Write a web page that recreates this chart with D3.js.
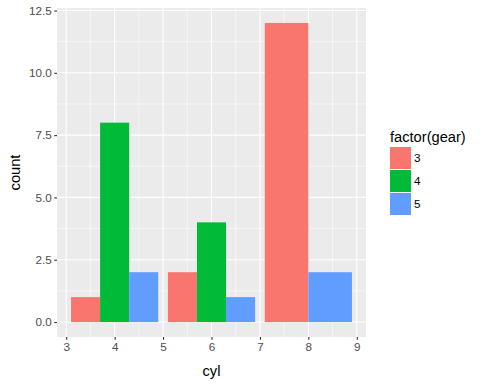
<!DOCTYPE html>
<html><head><meta charset="utf-8">
<script src="https://cdn.jsdelivr.net/npm/d3@7"></script>
<style>body{margin:0;background:#fff}svg{display:block}text{font-family:"Liberation Sans",Arial,sans-serif}</style>
</head><body>
<script>
const cylValues = [4, 6, 8];
const gearLevels = ["3", "4", "5"];
const counts = [
  {cyl: 4, gear: "3", n: 1}, {cyl: 4, gear: "4", n: 8}, {cyl: 4, gear: "5", n: 2},
  {cyl: 6, gear: "3", n: 2}, {cyl: 6, gear: "4", n: 4}, {cyl: 6, gear: "5", n: 1},
  {cyl: 8, gear: "3", n: 12}, {cyl: 8, gear: "5", n: 2}
];
const xTicks = [3, 4, 5, 6, 7, 8, 9];
const yTicks = [0, 2.5, 5, 7.5, 10, 12.5];
const colors = ["#F8766D", "#00BA38", "#619CFF"];

const W = 480, H = 384;
const P = {l: 57, r: 366, t: 8, b: 337};
const svg = d3.select("body").append("svg").attr("width", W).attr("height", H);

const barW = 1.8;
const x = d3.scaleLinear().domain([2.81, 9.19]).range([P.l, P.r]);
const y = d3.scaleLinear().domain([-0.6, 12.6]).range([P.b, P.t]);
const color = d3.scaleOrdinal().domain(gearLevels).range(colors);

svg.append("rect").attr("x", P.l).attr("y", P.t).attr("width", P.r - P.l).attr("height", P.b - P.t).attr("fill", "#EBEBEB");

const g = svg.append("g");
// minor grid
const xMinor = d3.range(3.5, 9, 1);
const yMinor = [1.25, 3.75, 6.25, 8.75, 11.25];
g.selectAll(".xm").data(xMinor).join("line").attr("x1", d => x(d)).attr("x2", d => x(d)).attr("y1", P.t).attr("y2", P.b).attr("stroke", "#fff").attr("stroke-width", 0.55);
g.selectAll(".ym").data(yMinor).join("line").attr("y1", d => y(d)).attr("y2", d => y(d)).attr("x1", P.l).attr("x2", P.r).attr("stroke", "#fff").attr("stroke-width", 0.55);
g.selectAll(".xM").data(xTicks).join("line").attr("x1", d => x(d)).attr("x2", d => x(d)).attr("y1", P.t).attr("y2", P.b).attr("stroke", "#fff").attr("stroke-width", 1.1);
g.selectAll(".yM").data(yTicks).join("line").attr("y1", d => y(d)).attr("y2", d => y(d)).attr("x1", P.l).attr("x2", P.r).attr("stroke", "#fff").attr("stroke-width", 1.1);

// bars with dodge
cylValues.forEach(c => {
  const grp = counts.filter(d => d.cyl === c);
  const k = grp.length, w = barW / k;
  grp.forEach((d, i) => {
    const x0 = c - barW / 2 + i * w;
    svg.append("rect").attr("x", x(x0)).attr("width", x(x0 + w) - x(x0))
      .attr("y", y(d.n)).attr("height", y(0) - y(d.n)).attr("fill", color(d.gear));
  });
});

// axes
const xAxis = svg.append("g").attr("transform", `translate(0,${P.b})`)
  .call(d3.axisBottom(x).tickValues(xTicks).tickFormat(d3.format("d")).tickSize(2.75).tickPadding(2.5));
const yAxis = svg.append("g").attr("transform", `translate(${P.l},0)`)
  .call(d3.axisLeft(y).tickValues(yTicks).tickFormat(d3.format(".1f")).tickSize(2.75).tickPadding(2.5));
[xAxis, yAxis].forEach(a => {
  a.select(".domain").remove();
  a.selectAll("line").attr("stroke", "#333").attr("stroke-width", 1.1);
  a.selectAll("text").attr("fill", "#4D4D4D").style("font-size", "11.7px").style("font-family", "Liberation Sans, Arial, sans-serif");
});

svg.append("text").attr("x", (P.l + P.r) / 2).attr("y", 376).attr("text-anchor", "middle").style("font-size", "14.67px").text("cyl");
svg.append("text").attr("transform", `translate(20,${(P.t + P.b) / 2}) rotate(-90)`).attr("text-anchor", "middle").style("font-size", "14.67px").text("count");

// legend
const lg = svg.append("g");
lg.append("text").attr("x", 390).attr("y", 142).style("font-size", "14.67px").text("factor(gear)");
gearLevels.forEach((lv, i) => {
  const yy = 147 + i * 23;
  lg.append("rect").attr("x", 390).attr("y", yy).attr("width", 21).attr("height", 22).attr("fill", color(lv));
  lg.append("text").attr("x", 414).attr("y", yy + 11).attr("dy", "0.35em").style("font-size", "11.7px").text(lv);
});
</script>
</body></html>
